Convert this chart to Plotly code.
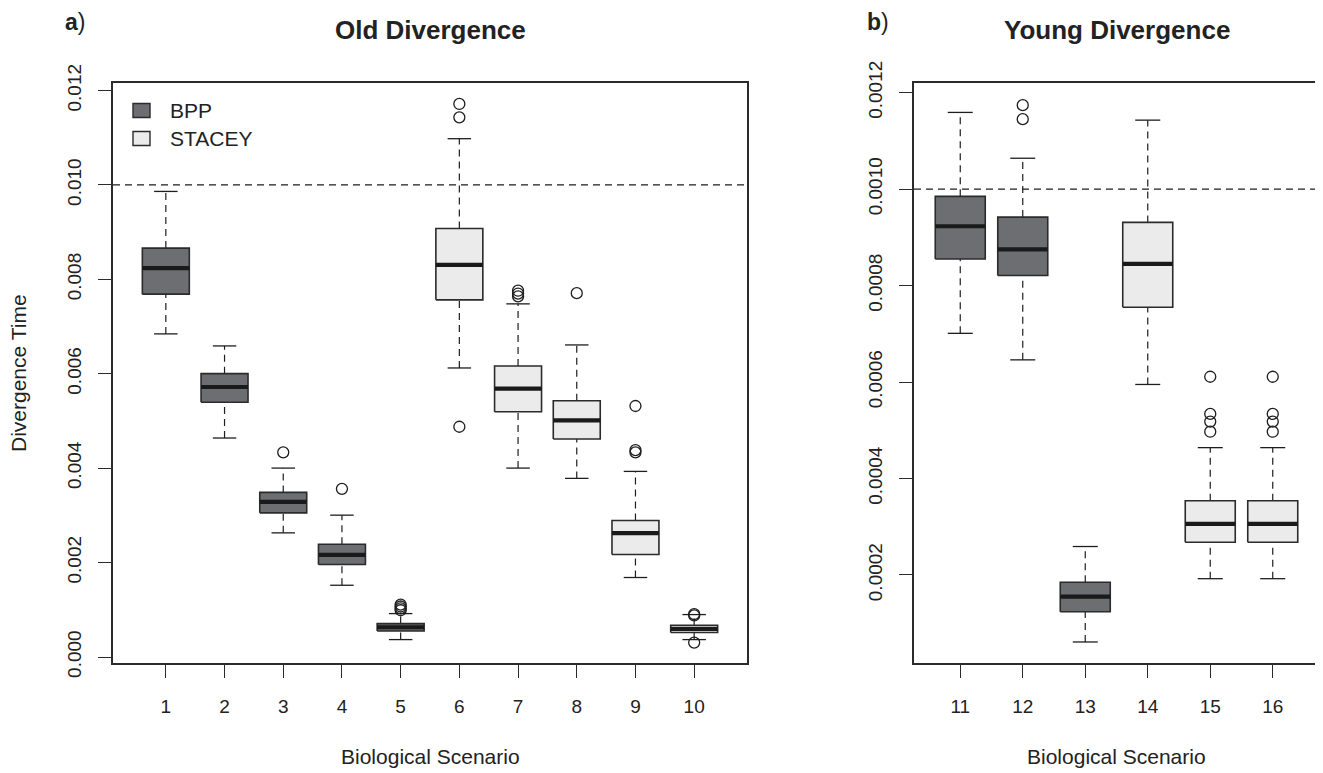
import plotly.graph_objects as go

# ---------------- data ----------------
left_pos = [1, 2, 3, 4, 5, 6, 7, 8, 9, 10]
left_group = ["BPP"] * 5 + ["STACEY"] * 5
left_lower = [0.006845, 0.004639, 0.00263, 0.00152, 0.000369, 0.006123, 0.004002, 0.003784, 0.001684, 0.000369]
left_q1 = [0.007687, 0.005396, 0.003054, 0.00196, 0.000551, 0.007566, 0.005197, 0.004617, 0.002172, 0.000518]
left_median = [0.008238, 0.00572, 0.003288, 0.002163, 0.00063, 0.008308, 0.005684, 0.005014, 0.002624, 0.000594]
left_q3 = [0.008662, 0.006003, 0.003487, 0.00239, 0.000708, 0.009078, 0.006166, 0.00543, 0.002893, 0.000672]
left_upper = [0.009863, 0.00659, 0.004002, 0.003005, 0.00092, 0.01098, 0.007481, 0.006611, 0.003932, 0.000899]
left_outliers = [[], [], [0.004335], [0.003563], [0.00099, 0.00103, 0.00107, 0.00111],
                 [0.011716, 0.011432, 0.004878], [0.00764, 0.0077, 0.00776], [0.007708],
                 [0.005317, 0.004384, 0.004335], [0.000305, 0.00088, 0.00091]]
left_ticks = [0.0, 0.002, 0.004, 0.006, 0.008, 0.010, 0.012]
left_ticktext = ["0.000", "0.002", "0.004", "0.006", "0.008", "0.010", "0.012"]
left_ref = 0.010

right_pos = [11, 12, 13, 14, 15, 16]
right_group = ["BPP", "BPP", "BPP", "STACEY", "STACEY", "STACEY"]
right_lower = [0.000701, 0.000646, 0.0000611, 0.000595, 0.0001923, 0.0001923]
right_q1 = [0.000855, 0.000821, 0.0001239, 0.000755, 0.000268, 0.000268]
right_median = [0.000923, 0.000875, 0.000155, 0.000845, 0.000306, 0.000306]
right_q3 = [0.000985, 0.000942, 0.0001848, 0.000931, 0.000354, 0.000354]
right_upper = [0.001159, 0.001064, 0.000259, 0.001143, 0.000464, 0.000464]
right_outliers = [[], [0.001174, 0.001145], [], [], [0.000611, 0.000534, 0.000518, 0.000497],
                  [0.000611, 0.000534, 0.000518, 0.000497]]
right_ticks = [0.0002, 0.0004, 0.0006, 0.0008, 0.0010, 0.0012]
right_ticktext = ["0.0002", "0.0004", "0.0006", "0.0008", "0.0010", "0.0012"]
right_ref = 0.0010

groups = ["BPP", "STACEY"]
fill_colors = {"BPP": "#6D6E71", "STACEY": "#EBEBEC"}

# ---------------- styles ----------------
PAGE_W, PAGE_H = 1323, 773
OFF = 8                      # default body margin of the html page
W, H = PAGE_W - OFF, PAGE_H - OFF
BORDER = "#2B2B2B"
INK = "#1E1E1E"
TXT = "#222222"
FONT = "Liberation Sans, Arial, Helvetica, sans-serif"
HALF = 0.4      # half box width
CAP = 0.2       # half staple width
DASH = "7px,5px"

fig = go.Figure()


def add_panel(pos, grp, lo, q1, med, q3, up, outl, xa, ya):
    # whiskers (dashed)
    wx, wy = [], []
    for p, a, b, c, d in zip(pos, lo, q1, q3, up):
        wx += [p, p, None, p, p, None]
        wy += [a, b, None, c, d, None]
    fig.add_trace(go.Scatter(x=wx, y=wy, mode="lines", xaxis=xa, yaxis=ya,
                             line=dict(color=INK, width=1.2, dash=DASH),
                             showlegend=False, hoverinfo="skip"))
    # staples
    sx, sy = [], []
    for p, a, d in zip(pos, lo, up):
        sx += [p - CAP, p + CAP, None, p - CAP, p + CAP, None]
        sy += [a, a, None, d, d, None]
    fig.add_trace(go.Scatter(x=sx, y=sy, mode="lines", xaxis=xa, yaxis=ya,
                             line=dict(color=INK, width=1.3),
                             showlegend=False, hoverinfo="skip"))
    # boxes
    for g in groups:
        bx, by = [], []
        for p, gg, b, c in zip(pos, grp, q1, q3):
            if gg != g:
                continue
            bx += [p - HALF, p + HALF, p + HALF, p - HALF, p - HALF, None]
            by += [b, b, c, c, b, None]
        if bx:
            fig.add_trace(go.Scatter(x=bx, y=by, mode="lines", fill="toself",
                                     fillcolor=fill_colors[g], xaxis=xa, yaxis=ya,
                                     line=dict(color=BORDER, width=1.6),
                                     showlegend=False, hoverinfo="skip"))
    # medians
    mx, my = [], []
    for p, m in zip(pos, med):
        mx += [p - HALF, p + HALF, None]
        my += [m, m, None]
    fig.add_trace(go.Scatter(x=mx, y=my, mode="lines", xaxis=xa, yaxis=ya,
                             line=dict(color="#1A1A1A", width=4.2),
                             showlegend=False, hoverinfo="skip"))
    # outliers
    ox, oy = [], []
    for p, vals in zip(pos, outl):
        for v in vals:
            ox.append(p)
            oy.append(v)
    fig.add_trace(go.Scatter(x=ox, y=oy, mode="markers", xaxis=xa, yaxis=ya,
                             marker=dict(symbol="circle-open", size=11, color=INK,
                                         line=dict(width=1.3, color=INK)),
                             showlegend=False, hoverinfo="skip"))


add_panel(left_pos, left_group, left_lower, left_q1, left_median, left_q3, left_upper,
          left_outliers, "x", "y")
add_panel(right_pos, right_group, right_lower, right_q1, right_median, right_q3, right_upper,
          right_outliers, "x2", "y2")


# ---------------- page-pixel -> paper helpers ----------------
def px_x(v):
    return (v - OFF) / W


def px_y(v):
    return (PAGE_H - v) / H


ydom = [px_y(663), px_y(83)]

common_axis = dict(showline=True, mirror=True, linecolor=BORDER, linewidth=1.5,
                   ticks="outside", ticklen=13, tickwidth=1.3, tickcolor=BORDER,
                   showgrid=False, zeroline=False, automargin=False,
                   tickfont=dict(family=FONT, size=19, color=TXT))

fig.update_layout(
    xaxis=dict(domain=[px_x(113), px_x(747)], range=[0.1, 10.9],
               tickvals=left_pos, ticktext=[str(p) for p in left_pos],
               ticklabelstandoff=12, anchor="y", **common_axis),
    yaxis=dict(domain=ydom, range=[-0.000127, 0.01216], tickvals=left_ticks,
               ticktext=left_ticktext, tickangle=-90, ticklabelstandoff=10,
               anchor="x", **common_axis),
    xaxis2=dict(domain=[px_x(914), px_x(1319)], range=[10.26, 16.74],
                tickvals=right_pos, ticktext=[str(p) for p in right_pos],
                ticklabelstandoff=12, anchor="y2", **common_axis),
    yaxis2=dict(domain=ydom, range=[0.0000175, 0.00122], tickvals=right_ticks,
                ticktext=right_ticktext, tickangle=-90, ticklabelstandoff=10,
                anchor="x2", **common_axis),
)

# reference lines
fig.add_shape(type="line", xref="x domain", yref="y", x0=0, x1=1, y0=left_ref, y1=left_ref,
              line=dict(color=INK, width=1.2, dash=DASH))
fig.add_shape(type="line", xref="x2 domain", yref="y2", x0=0, x1=1, y0=right_ref, y1=right_ref,
              line=dict(color=INK, width=1.2, dash=DASH))

# legend (manual, R style)
legend_rows = [(110.5, "BPP"), (138.5, "STACEY")]
for yc, name in legend_rows:
    fig.add_shape(type="rect", xref="paper", yref="paper",
                  x0=px_x(133), x1=px_x(150), y0=px_y(yc + 7), y1=px_y(yc - 7),
                  fillcolor=fill_colors[name], line=dict(color=BORDER, width=1.4))
    fig.add_annotation(text=name, xref="paper", yref="paper", x=px_x(168), y=px_y(yc),
                       xanchor="left", yanchor="middle", showarrow=False,
                       font=dict(family=FONT, size=21, color=TXT))

# titles and labels
fig.add_annotation(text="<b>Old Divergence</b>", xref="paper", yref="paper",
                   x=px_x(430), y=px_y(30), xanchor="center", yanchor="middle",
                   showarrow=False, font=dict(family=FONT, size=26, color=TXT))
fig.add_annotation(text="<b>Young Divergence</b>", xref="paper", yref="paper",
                   x=px_x(1116.5), y=px_y(30), xanchor="center", yanchor="middle",
                   showarrow=False, font=dict(family=FONT, size=26, color=TXT))
for xl, lab in ((64, "a"), (866, "b")):
    fig.add_annotation(text="<b>%s</b>)" % lab, xref="paper", yref="paper",
                       x=px_x(xl), y=1.0, xanchor="left", yanchor="top",
                       borderpad=0, showarrow=False,
                       font=dict(family=FONT, size=23, color=TXT))
for xc in (430, 1116.5):
    fig.add_annotation(text="Biological Scenario", xref="paper", yref="paper",
                       x=px_x(xc), y=px_y(756), xanchor="center", yanchor="middle",
                       showarrow=False, font=dict(family=FONT, size=21, color=TXT))
fig.add_annotation(text="Divergence Time", xref="paper", yref="paper", textangle=-90,
                   x=px_x(18), y=px_y(373), xanchor="center", yanchor="middle",
                   showarrow=False, font=dict(family=FONT, size=21, color=TXT))

fig.update_layout(width=W, height=H, margin=dict(l=0, r=0, t=0, b=0),
                  paper_bgcolor="white", plot_bgcolor="white", showlegend=False,
                  template="none")

fig.write_html("out.html")
